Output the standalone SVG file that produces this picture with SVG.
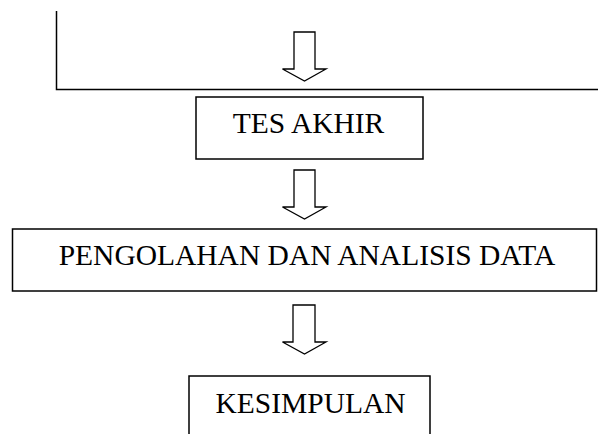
<svg xmlns="http://www.w3.org/2000/svg" width="598" height="434" viewBox="0 0 598 434">
<style>
.box{fill:#fff;stroke:#000;stroke-width:1.5}
.ln{fill:none;stroke:#000;stroke-width:1.5}
.arr{fill:#fff;stroke:#000;stroke-width:1.3;stroke-linejoin:miter}
.t{font-family:"Liberation Serif","Times New Roman",serif;font-size:29.5px;fill:#000;text-anchor:middle}
</style>
<rect width="598" height="434" fill="#fff"/>
<g id="connectors">
<path class="ln" d="M56.5,11 V89.5 H598"/>
<path class="arr" d="M294,32 H315 V69 H326 L304.5,81 L282.5,69 H294 Z"/>
<path class="arr" d="M294,170 H315 V207 H326 L304.5,219 L282.5,207 H294 Z"/>
<path class="arr" d="M293,305 H315 V342 H326 L304.5,354 L282.5,342 H293 Z"/>
</g>
<g id="tes-akhir">
<rect class="box" x="196" y="97" width="227" height="62"/>
<text class="t" x="308.5" y="133">TES AKHIR</text>
</g>
<g id="pengolahan">
<rect class="box" x="12.5" y="229" width="584" height="62"/>
<text class="t" x="307" y="265">PENGOLAHAN DAN ANALISIS DATA</text>
</g>
<g id="kesimpulan">
<path class="ln" d="M189,434 V376 H430 V434"/>
<text class="t" x="310.5" y="412.5">KESIMPULAN</text>
</g>
</svg>
